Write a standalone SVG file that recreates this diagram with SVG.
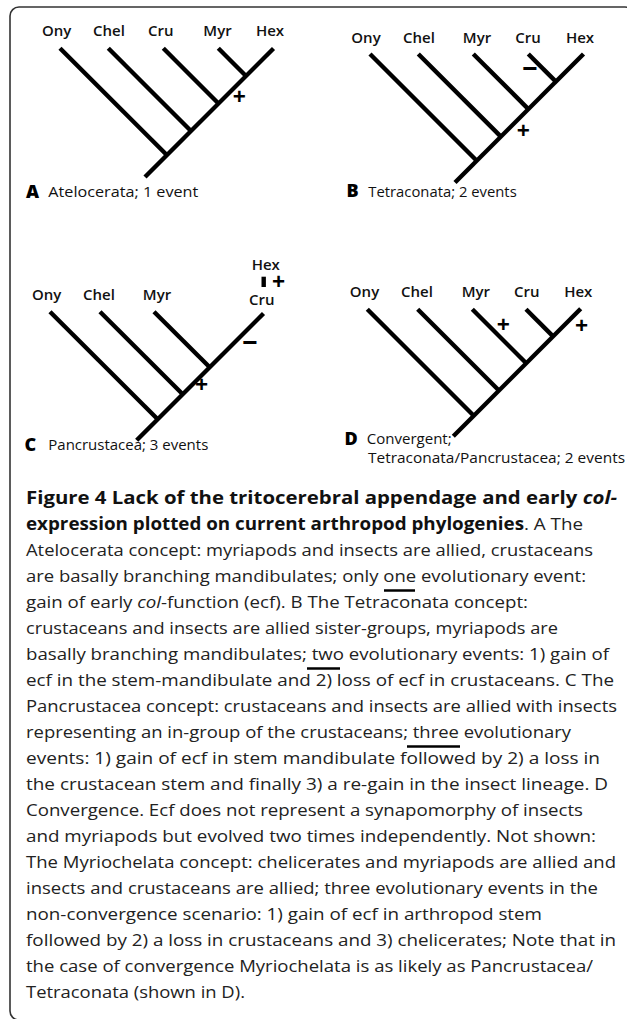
<svg xmlns="http://www.w3.org/2000/svg" width="627" height="1019" viewBox="0 0 627 1019">
<style>
.bg{fill:#ffffff}
.frame{fill:none;stroke:#333;stroke-width:1.6}
.br{stroke:#000;stroke-width:4.4;stroke-linecap:butt;fill:none}
.tx{font-family:"Open Sans","Noto Sans",sans-serif;font-size:15px;fill:#111}
.lab{text-anchor:middle;font-weight:600}
.pl{font-family:"Open Sans","Noto Sans",sans-serif;font-size:18px;font-weight:800;fill:#000}
.ev{font-family:"Open Sans","Noto Sans",sans-serif;font-size:23px;font-weight:700;fill:#000;text-anchor:middle}
.mn{font-size:27px}
.cap{font-family:"Open Sans","Noto Sans",sans-serif;font-size:17px;fill:#222}
.b{font-weight:700;fill:#111}
.i{font-style:italic}
.ul{stroke:#000;stroke-width:2.5}
</style>
<rect class="bg" x="0" y="0" width="627" height="1019"/>
<rect class="frame" x="10" y="7" width="624" height="1013" rx="9"/>

<!-- Panel A -->
<g id="panelA">
  <g id="A-Ony"><text class="tx lab" x="56.7" y="36">Ony</text></g>
  <g id="A-Chel"><text class="tx lab" x="109" y="36">Chel</text></g>
  <g id="A-Cru"><text class="tx lab" x="160.8" y="36">Cru</text></g>
  <g id="A-Myr"><text class="tx lab" x="217.5" y="36">Myr</text></g>
  <g id="A-Hex"><text class="tx lab" x="270" y="36">Hex</text></g>
  <g id="A-connectors">
    <line class="br" x1="145" y1="177" x2="273.5" y2="48.5"/>
    <line class="br" x1="60" y1="48.3" x2="166.8" y2="155"/>
    <line class="br" x1="108.3" y1="48.3" x2="191" y2="131"/>
    <line class="br" x1="163.3" y1="48.3" x2="218.5" y2="103.5"/>
    <line class="br" x1="218.3" y1="48.3" x2="246" y2="76"/>
  </g>
  <text class="ev" x="239.3" y="104.5">+</text>
  <text class="pl" x="26" y="198">A</text>
  <text class="tx" x="48.3" y="197" textLength="150" lengthAdjust="spacingAndGlyphs">Atelocerata; 1 event</text>
</g>

<!-- Panel B -->
<g id="panelB">
  <g id="B-Ony"><text class="tx lab" x="366" y="42.7">Ony</text></g>
  <g id="B-Chel"><text class="tx lab" x="419" y="42.7">Chel</text></g>
  <g id="B-Myr"><text class="tx lab" x="477" y="42.7">Myr</text></g>
  <g id="B-Cru"><text class="tx lab" x="528" y="42.7">Cru</text></g>
  <g id="B-Hex"><text class="tx lab" x="580" y="42.7">Hex</text></g>
  <g id="B-connectors">
    <line class="br" x1="455" y1="182.5" x2="583.5" y2="54"/>
    <line class="br" x1="370" y1="54" x2="476.75" y2="160.75"/>
    <line class="br" x1="418.3" y1="54" x2="500.9" y2="136.6"/>
    <line class="br" x1="473.3" y1="54" x2="528.4" y2="109.1"/>
    <line class="br" x1="528.3" y1="54" x2="555.9" y2="81.6"/>
  </g>
  <text class="ev mn" x="530" y="78">−</text>
  <text class="ev" x="523.3" y="139">+</text>
  <text class="pl" x="346.5" y="197">B</text>
  <text class="tx" x="368.3" y="196.7" textLength="148.4" lengthAdjust="spacingAndGlyphs">Tetraconata; 2 events</text>
</g>

<!-- Panel C -->
<g id="panelC">
  <g id="C-Ony"><text class="tx lab" x="46.7" y="300">Ony</text></g>
  <g id="C-Chel"><text class="tx lab" x="99" y="300">Chel</text></g>
  <g id="C-Myr"><text class="tx lab" x="157" y="300">Myr</text></g>
  <g id="C-Cru"><text class="tx lab" x="261.7" y="305">Cru</text></g>
  <g id="C-Hex"><text class="tx lab" x="265.8" y="270">Hex</text></g>
  <g id="C-connectors">
    <line class="br" x1="136.7" y1="440.3" x2="263.5" y2="313.5"/>
    <line class="br" x1="50" y1="311.7" x2="157.7" y2="419.3"/>
    <line class="br" x1="100" y1="311.7" x2="182.7" y2="394.3"/>
    <line class="br" x1="154" y1="311.7" x2="209.7" y2="367.3"/>
    <line class="br" x1="263.7" y1="276.7" x2="263.7" y2="287"/>
  </g>
  <text class="ev" x="278.5" y="289.5" font-size="21">+</text>
  <text class="ev mn" x="250" y="352">−</text>
  <text class="ev" x="201.7" y="393">+</text>
  <text class="pl" x="24.5" y="450.5">C</text>
  <text class="tx" x="48.3" y="450" textLength="160" lengthAdjust="spacingAndGlyphs">Pancrustacea; 3 events</text>
</g>

<!-- Panel D -->
<g id="panelD">
  <g id="D-Ony"><text class="tx lab" x="364.5" y="296.7">Ony</text></g>
  <g id="D-Chel"><text class="tx lab" x="417" y="296.7">Chel</text></g>
  <g id="D-Myr"><text class="tx lab" x="475.8" y="296.7">Myr</text></g>
  <g id="D-Cru"><text class="tx lab" x="526.8" y="296.7">Cru</text></g>
  <g id="D-Hex"><text class="tx lab" x="578.3" y="296.7">Hex</text></g>
  <g id="D-connectors">
    <line class="br" x1="453.3" y1="436.2" x2="580.7" y2="308.8"/>
    <line class="br" x1="367.3" y1="309.3" x2="473.75" y2="415.75"/>
    <line class="br" x1="417.7" y1="309.3" x2="498.95" y2="390.55"/>
    <line class="br" x1="472.3" y1="309.3" x2="526.25" y2="363.25"/>
    <line class="br" x1="526" y1="309.3" x2="553.1" y2="336.4"/>
  </g>
  <text class="ev" x="503.3" y="333">+</text>
  <text class="ev" x="581.7" y="334">+</text>
  <text class="pl" x="344.5" y="445">D</text>
  <text class="tx" x="366.7" y="444.3" textLength="85" lengthAdjust="spacingAndGlyphs">Convergent;</text>
  <text class="tx" x="368" y="463.3" textLength="257" lengthAdjust="spacingAndGlyphs">Tetraconata/Pancrustacea; 2 events</text>
</g>

<!-- Caption -->
<g id="caption">
  <text class="cap b" x="26" y="504" textLength="591" lengthAdjust="spacingAndGlyphs">Figure 4 Lack of the tritocerebral appendage and early <tspan class="i">col-</tspan></text>
  <text class="cap" x="26" y="530" textLength="557" lengthAdjust="spacingAndGlyphs"><tspan class="b">expression plotted on current arthropod phylogenies</tspan>. A The</text>
  <text class="cap" x="26" y="556" textLength="567" lengthAdjust="spacingAndGlyphs">Atelocerata concept: myriapods and insects are allied, crustaceans</text>
  <text class="cap" x="26" y="582" textLength="560" lengthAdjust="spacingAndGlyphs">are basally branching mandibulates; only one evolutionary event:</text>
  <text class="cap" x="26" y="608" textLength="502" lengthAdjust="spacingAndGlyphs">gain of early <tspan class="i">col</tspan>-function (ecf). B The Tetraconata concept:</text>
  <text class="cap" x="26" y="634" textLength="532" lengthAdjust="spacingAndGlyphs">crustaceans and insects are allied sister-groups, myriapods are</text>
  <text class="cap" x="26" y="660" textLength="583" lengthAdjust="spacingAndGlyphs">basally branching mandibulates; two evolutionary events: 1) gain of</text>
  <text class="cap" x="26" y="686" textLength="588" lengthAdjust="spacingAndGlyphs">ecf in the stem-mandibulate and 2) loss of ecf in crustaceans. C The</text>
  <text class="cap" x="26" y="712" textLength="591" lengthAdjust="spacingAndGlyphs">Pancrustacea concept: crustaceans and insects are allied with insects</text>
  <text class="cap" x="26" y="738" textLength="545" lengthAdjust="spacingAndGlyphs">representing an in-group of the crustaceans; three evolutionary</text>
  <text class="cap" x="26" y="764" textLength="574" lengthAdjust="spacingAndGlyphs">events: 1) gain of ecf in stem mandibulate followed by 2) a loss in</text>
  <text class="cap" x="26" y="790" textLength="582" lengthAdjust="spacingAndGlyphs">the crustacean stem and finally 3) a re-gain in the insect lineage. D</text>
  <text class="cap" x="26" y="816" textLength="557" lengthAdjust="spacingAndGlyphs">Convergence. Ecf does not represent a synapomorphy of insects</text>
  <text class="cap" x="26" y="842" textLength="570" lengthAdjust="spacingAndGlyphs">and myriapods but evolved two times independently. Not shown:</text>
  <text class="cap" x="26" y="868" textLength="590" lengthAdjust="spacingAndGlyphs">The Myriochelata concept: chelicerates and myriapods are allied and</text>
  <text class="cap" x="26" y="894" textLength="572" lengthAdjust="spacingAndGlyphs">insects and crustaceans are allied; three evolutionary events in the</text>
  <text class="cap" x="26" y="920" textLength="516" lengthAdjust="spacingAndGlyphs">non-convergence scenario: 1) gain of ecf in arthropod stem</text>
  <text class="cap" x="26" y="946" textLength="590" lengthAdjust="spacingAndGlyphs">followed by 2) a loss in crustaceans and 3) chelicerates; Note that in</text>
  <text class="cap" x="26" y="972" textLength="567" lengthAdjust="spacingAndGlyphs">the case of convergence Myriochelata is as likely as Pancrustacea/</text>
  <text class="cap" x="26" y="998" textLength="219" lengthAdjust="spacingAndGlyphs">Tetraconata (shown in D).</text>
  <line class="ul" x1="384" y1="590.5" x2="415" y2="590.5"/>
  <line class="ul" x1="307" y1="668.5" x2="340" y2="668.5"/>
  <line class="ul" x1="407" y1="746.5" x2="460" y2="746.5"/>
</g>
</svg>
